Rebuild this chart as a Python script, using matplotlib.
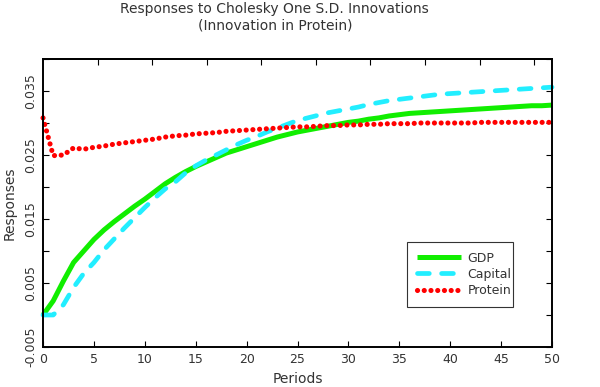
import matplotlib
matplotlib.use("Agg")
import matplotlib.pyplot as plt
import numpy as np

# impulse responses, periods 0..50
periods = list(range(51))

gdp = [0.0000, 0.0022, 0.0053, 0.0082, 0.0100, 0.0118, 0.0133, 0.0146, 0.0158, 0.0170,
       0.0181, 0.0193, 0.0205, 0.0215, 0.0224, 0.0232, 0.0239, 0.0246, 0.0253, 0.0258,
       0.0263, 0.0268, 0.0273, 0.0278, 0.0282, 0.0286, 0.0289, 0.0292, 0.0295, 0.0298,
       0.0301, 0.0303, 0.0306, 0.0308, 0.0311, 0.0313, 0.0315, 0.0316, 0.0317, 0.0318,
       0.0319, 0.0320, 0.0321, 0.0322, 0.0323, 0.0324, 0.0325, 0.0326, 0.0327, 0.0327,
       0.0328]

capital = [0.0000, 0.0000, 0.0016, 0.0043, 0.0065, 0.0082, 0.0102, 0.0119, 0.0136, 0.0152,
           0.0168, 0.0183, 0.0197, 0.0208, 0.0222, 0.0233, 0.0242, 0.0250, 0.0258, 0.0266,
           0.0273, 0.0279, 0.0286, 0.0292, 0.0298, 0.0304, 0.0308, 0.0312, 0.0316, 0.0319,
           0.0322, 0.0325, 0.0329, 0.0332, 0.0335, 0.0337, 0.0339, 0.0341, 0.0343, 0.0345,
           0.0346, 0.0347, 0.0348, 0.0349, 0.0350, 0.0351, 0.0352, 0.0353, 0.0354, 0.0355,
           0.0356]

protein = [0.0308, 0.0249, 0.0250, 0.0261, 0.0259, 0.0262, 0.0264, 0.0267, 0.0269, 0.0271,
           0.0273, 0.0275, 0.0278, 0.0280, 0.0281, 0.0283, 0.0284, 0.0285, 0.0287, 0.0288,
           0.0289, 0.0290, 0.0291, 0.0292, 0.0293, 0.0294, 0.0294, 0.0295, 0.0296, 0.0296,
           0.0297, 0.0297, 0.0298, 0.0298, 0.0299, 0.0299, 0.0299, 0.0300, 0.0300, 0.0300,
           0.0300, 0.0300, 0.0300, 0.0301, 0.0301, 0.0301, 0.0301, 0.0301, 0.0301, 0.0301,
           0.0301]

xticks = [0, 5, 10, 15, 20, 25, 30, 35, 40, 45, 50]
yticks = [-0.005, 0.0, 0.005, 0.01, 0.015, 0.02, 0.025, 0.03, 0.035, 0.04]
ylabels = ["-0.005", "", "0.005", "", "0.015", "", "0.025", "", "0.035", ""]

txt = "#333333"

fig = plt.figure(figsize=(6, 3.87), dpi=100)
ax = fig.add_axes([0.0717, 0.1034, 0.8483, 0.7441])

ax.plot(periods, gdp, color="#11ee00", lw=3.6, solid_capstyle="butt", label="GDP",
        clip_on=False)
ax.plot(periods, capital, color="#22eeff", lw=3.4, linestyle=(0, (2.5, 2.6)),
        dash_capstyle="round", label="Capital", clip_on=False)
ax.plot(periods, protein, color="#ff0000", lw=3.7, linestyle=(0, (0.01, 1.3)),
        dash_capstyle="round", label="Protein", clip_on=False)

ax.set_xlim(0, 50)
ax.set_ylim(-0.005, 0.04)
ax.set_xticks(xticks)
ax.set_xticklabels([str(t) for t in xticks], fontsize=9, color=txt)
ax.set_yticks(yticks)
ax.set_yticklabels(ylabels, fontsize=9, color=txt, rotation=90, va="center")
ax.tick_params(direction="in", length=4, width=0.8, right=True, pad=4)

# top axis ticks sit on their own spacing in the reference
top = ax.secondary_xaxis("top")
top.set_xticks([5.36 * k for k in range(1, 10)])
top.set_xticklabels([])
top.tick_params(direction="in", length=4, width=0.8)
top.spines["top"].set_linewidth(1.2)

for s in ax.spines.values():
    s.set_linewidth(1.4)

ax.set_xlabel("Periods", fontsize=10, color=txt, labelpad=5)
ax.set_ylabel("Responses", fontsize=10, color=txt, labelpad=6)

fig.text(0.458, 0.978, "Responses to Cholesky One S.D. Innovations", ha="center", va="center",
         fontsize=10, color=txt)
fig.text(0.458, 0.934, "(Innovation in Protein)", ha="center", va="center",
         fontsize=10, color=txt)

leg = ax.legend(loc="lower left", bbox_to_anchor=(0.715, 0.139, 0.208, 0.22), mode="expand",
                fontsize=9, handlelength=3.5, handletextpad=0.55, labelspacing=0.25,
                borderpad=0.8, borderaxespad=0, fancybox=False, framealpha=1)
leg.get_frame().set_edgecolor("#333333")
leg.get_frame().set_linewidth(0.8)
for t in leg.get_texts():
    t.set_color(txt)

fig.savefig("out.png", dpi=100)
